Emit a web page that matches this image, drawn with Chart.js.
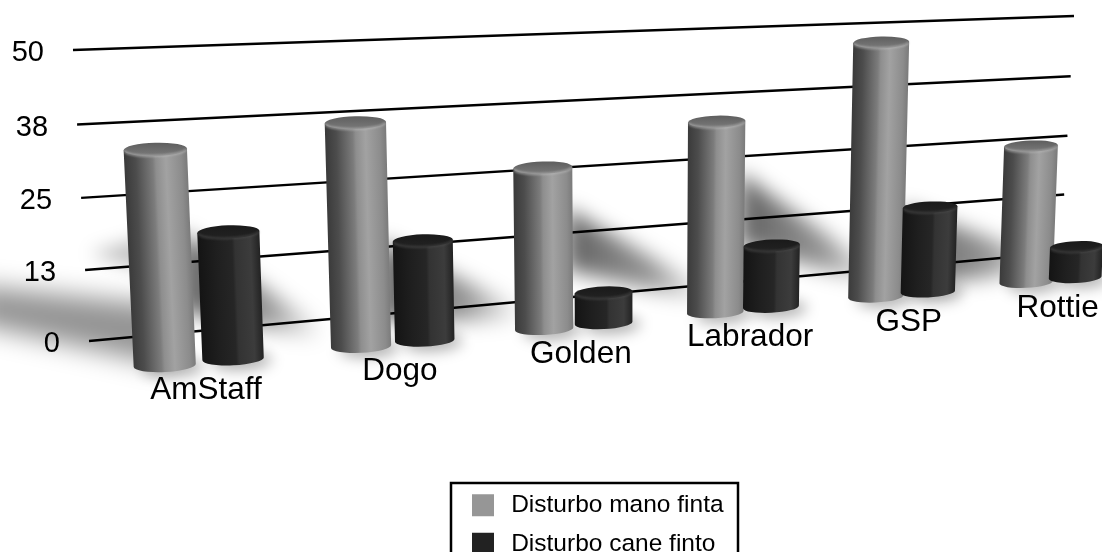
<!DOCTYPE html>
<html>
<head>
<meta charset="utf-8">
<title>Disturbo</title>
<script src="https://cdn.jsdelivr.net/npm/chart.js@4"></script>
<style>
  html, body { margin: 0; padding: 0; background: #fff; overflow: hidden; }
  canvas { display: block; }
</style>
</head>
<body>
<canvas id="myChart" width="1102" height="552"></canvas>
<script>
const razze = ['AmStaff', 'Dogo', 'Golden', 'Labrador', 'GSP', 'Rottie'];
const manoFinta = [36.7, 39.3, 29.4, 35.8, 49, 27.3];
const caneFinto = [22, 17.9, 5.7, 11.8, 16.7, 6.3];
const yTickLabels = ['0', '13', '25', '38', '50'];

const FONT = '"Liberation Sans", Arial, sans-serif';

// perspective planes: corners are BL, BR, TR, TL of the chart area once projected
const wallQuad = [[89, 341], [1061, 252.5], [1074, 16], [73, 50]];
const barQuad = [[97, 372], [1122, 273], [1133, 26], [82, 72]];

function homography(q) {
    const [[x0, y0], [x1, y1], [x2, y2], [x3, y3]] = q;
    const dx1 = x1 - x2, dx2 = x3 - x2, sx = x0 - x1 + x2 - x3;
    const dy1 = y1 - y2, dy2 = y3 - y2, sy = y0 - y1 + y2 - y3;
    const den = dx1 * dy2 - dx2 * dy1;
    const g = (sx * dy2 - dx2 * sy) / den;
    const h = (dx1 * sy - sx * dy1) / den;
    const a = x1 - x0 + g * x1, b = x3 - x0 + h * x3;
    const d = y1 - y0 + g * y1, e = y3 - y0 + h * y3;
    return (u, v) => {
        const w = g * u + h * v + 1;
        return [(a * u + b * v + x0) / w, (d * u + e * v + y0) / w];
    };
}
const wall = homography(wallQuad);
const front = homography(barQuad);

function barGeometry(chart, el, value) {
    const area = chart.chartArea;
    const yScale = chart.scales.y;
    const u0 = (el.x - el.width / 2 - area.left) / area.width;
    const u1 = (el.x + el.width / 2 - area.left) / area.width;
    const v = (area.bottom - yScale.getPixelForValue(value)) / area.height;
    // cylinders narrow less than the spacing between them does
    const widen = 0.92 + 0.22 * (u0 + u1) / 2;
    const end = (vv) => {
        const l = front(u0, vv), r = front(u1, vv);
        const rx = Math.hypot(r[0] - l[0], r[1] - l[1]) / 2 * widen;
        return { cx: (l[0] + r[0]) / 2, cy: (l[1] + r[1]) / 2, rx: rx, ry: rx * 0.21,
            rot: Math.atan2(r[1] - l[1], r[0] - l[0]) * 0.5 };
    };
    return { top: end(v), base: end(0) };
}

function cylinder(ctx, g, stops, capTop, capFront, rim) {
    const { top, base } = g;
    const ex = (e, s) => [e.cx + s * e.rx * Math.cos(e.rot), e.cy + s * e.rx * Math.sin(e.rot)];
    ctx.save();
    ctx.beginPath();
    ctx.ellipse(base.cx, base.cy, base.rx, base.ry, base.rot, 0, Math.PI);
    let p = ex(top, -1);
    ctx.lineTo(p[0], p[1]);
    p = ex(top, 1);
    ctx.lineTo(p[0], p[1]);
    ctx.closePath();
    ctx.clip();
    // shading follows the lean of the cylinder
    const shear = (top.cx - base.cx) / (top.cy - base.cy);
    ctx.transform(1, 0, shear, 1, -shear * top.cy, 0);
    const grad = ctx.createLinearGradient(top.cx - top.rx, 0, top.cx + top.rx, 0);
    stops.forEach(s => grad.addColorStop(s[0], s[1]));
    ctx.fillStyle = grad;
    ctx.fillRect(top.cx - top.rx - 60, top.cy - 40, top.rx * 2 + 120, base.cy - top.cy + 80);
    ctx.restore();

    const cap = ctx.createLinearGradient(0, top.cy - top.ry, 0, top.cy + top.ry);
    cap.addColorStop(0, capTop);
    cap.addColorStop(1, capFront);
    ctx.beginPath();
    ctx.ellipse(top.cx, top.cy, top.rx, top.ry, top.rot, 0, Math.PI * 2);
    ctx.fillStyle = cap;
    ctx.fill();
    // bevel along the front of the cap
    ctx.beginPath();
    ctx.ellipse(top.cx, top.cy, top.rx - 0.5, top.ry, top.rot, 0.12, Math.PI - 0.12);
    ctx.strokeStyle = rim;
    ctx.lineWidth = 2;
    ctx.filter = 'blur(1px)';
    ctx.stroke();
    ctx.filter = 'none';
}

function drawShadows(ctx, chart, geo) {
    const shadowLen = 140;
    ctx.save();
    geo[0].forEach((g, i) => {
        if (i === geo[0].length - 1) return;
        const dark = geo[1][i];
        const h = g.base.cy - g.top.cy;
        const darkH = dark.base.cy - dark.top.cy;
        const x0 = g.top.cx + g.top.rx - 6;
        // a tall neighbour hides the upper part of the streak
        const y0 = darkH > 70 ? dark.top.cy : g.base.cy - Math.min(h * 0.75, 140);
        const y1 = y0 + Math.min(h * 0.38, 80);
        const yEnd = g.base.cy - 34;
        const grad = ctx.createLinearGradient(x0, 0, x0 + shadowLen, 0);
        grad.addColorStop(0, 'rgba(0,0,0,0.62)');
        grad.addColorStop(0.6, 'rgba(0,0,0,0.42)');
        grad.addColorStop(1, 'rgba(0,0,0,0.02)');
        ctx.filter = 'blur(10px)';
        ctx.fillStyle = grad;
        ctx.beginPath();
        ctx.moveTo(x0, y0);
        ctx.lineTo(x0 + shadowLen, yEnd - 6);
        ctx.lineTo(x0 + shadowLen, yEnd + 8);
        ctx.lineTo(x0, y1);
        ctx.closePath();
        ctx.fill();
    });
    // band running off the left side of the first bar
    const first = geo[0][0];
    ctx.filter = 'blur(13px)';
    ctx.fillStyle = 'rgba(0,0,0,0.42)';
    ctx.beginPath();
    ctx.moveTo(first.base.cx, first.base.cy - 60);
    ctx.lineTo(first.base.cx, first.base.cy + 0);
    ctx.lineTo(first.base.cx - 190, first.base.cy - 42);
    ctx.lineTo(first.base.cx - 190, first.base.cy - 80);
    ctx.closePath();
    ctx.fill();
    ctx.fillStyle = 'rgba(0,0,0,0.25)';
    ctx.filter = 'blur(9px)';
    ctx.beginPath();
    ctx.moveTo(first.base.cx - 20, first.base.cy - 128);
    ctx.lineTo(first.base.cx - 20, first.base.cy - 95);
    ctx.lineTo(first.base.cx - 75, first.base.cy - 112);
    ctx.closePath();
    ctx.fill();
    // contact shadows under the bases
    ctx.filter = 'blur(7px)';
    ctx.fillStyle = 'rgba(0,0,0,0.3)';
    geo.forEach(set => set.forEach(g => {
        ctx.beginPath();
        ctx.ellipse(g.base.cx + 8, g.base.cy + 2, g.base.rx, g.base.ry + 3, g.base.rot, 0, Math.PI * 2);
        ctx.fill();
    }));
    ctx.restore();
}

const cylindersPlugin = {
    id: 'cylinders',
    afterLayout(chart) {
        // legend sits in its own framed box below the chart
        const lg = chart.legend;
        const pad = chart.options.plugins.legend.labels.padding;
        lg.left = 472 - pad;
        lg.right = lg.left + 270;
        lg.top = 493 - pad;
        lg.bottom = 600;
    },
    beforeDatasetsDraw(chart) {
        const ctx = chart.ctx;
        const area = chart.chartArea;
        const yScale = chart.scales.y;
        const geo = [manoFinta, caneFinto].map((vals, d) =>
            vals.map((v, i) => barGeometry(chart, chart.getDatasetMeta(d).data[i], v)));

        drawShadows(ctx, chart, geo);

        // grid lines and value labels on the back wall
        yScale.ticks.forEach(t => {
            const v = (area.bottom - yScale.getPixelForValue(t.value)) / area.height;
            const a = wall(0, v), b = wall(1, v);
            ctx.beginPath();
            ctx.moveTo(a[0], a[1]);
            ctx.lineTo(b[0], b[1]);
            ctx.strokeStyle = '#000';
            ctx.lineWidth = 2.4;
            ctx.stroke();
            ctx.fillStyle = '#000';
            ctx.font = '29px ' + FONT;
            ctx.textAlign = 'right';
            ctx.textBaseline = 'middle';
            ctx.fillText(t.label, a[0] - 29, a[1] + 3);
        });

        const grayStops = [[0, '#3a3a3a'], [0.18, '#4c4c4c'], [0.45, '#7c7c7c'], [0.5, '#8e8e8e'], [0.66, '#a2a2a2'], [0.9, '#8c8c8c'], [1, '#7a7a7a']];
        const darkStops = [[0, '#141414'], [0.3, '#1f1f1f'], [0.55, '#262626'], [0.6, '#333'], [0.85, '#3c3c3c'], [1, '#222']];
        razze.forEach((r, i) => {
            cylinder(ctx, geo[0][i], grayStops, '#5e5e5e', '#7a7a7a', 'rgba(190,190,190,0.65)');
            cylinder(ctx, geo[1][i], darkStops, '#1a1a1a', '#222', 'rgba(80,80,80,0.6)');
        });

        // category labels hang below the slanted base line
        ctx.fillStyle = '#000';
        ctx.textAlign = 'center';
        ctx.textBaseline = 'middle';
        ctx.font = '31.5px ' + FONT;
        chart.scales.x.getLabels().forEach((label, i) => {
            const g1 = geo[0][i].base, g2 = geo[1][i].base;
            const x = (g1.cx + g2.cx) / 2 + 7;
            const y = (g1.cy + g2.cy) / 2 + 28;
            ctx.fillText(label, x, y);
        });
        return false;
    },
    afterDraw(chart) {
        const ctx = chart.ctx;
        ctx.save();
        ctx.strokeStyle = '#000';
        ctx.lineWidth = 2.5;
        ctx.strokeRect(451, 483, 287, 90);
        ctx.restore();
    }
};

const config = {
    type: 'bar',
    data: {
        labels: razze,
        datasets: [
            { label: 'Disturbo mano finta', data: manoFinta, backgroundColor: '#969696', borderWidth: 0 },
            { label: 'Disturbo cane finto', data: caneFinto, backgroundColor: '#222222', borderWidth: 0 }
        ]
    },
    plugins: [cylindersPlugin],
    options: {
        responsive: false,
        animation: false,
        events: [],
        datasets: { bar: { categoryPercentage: 0.68, barPercentage: 0.96 } },
        layout: { padding: { left: 90, right: 40, top: 52, bottom: 210 } },
        scales: {
            x: {
                ticks: { display: false },
                grid: { display: false },
                border: { display: false }
            },
            y: {
                min: 0,
                max: 50,
                ticks: {
                    display: false,
                    stepSize: 12.5,
                    callback: (value, i) => yTickLabels[i]
                },
                grid: { display: false },
                border: { display: false }
            }
        },
        plugins: {
            title: { display: false },
            tooltip: { enabled: false },
            legend: {
                position: 'chartArea',
                align: 'start',
                labels: {
                    color: '#000',
                    boxWidth: 22,
                    boxHeight: 22,
                    padding: 14,
                    font: { family: FONT, size: 24.5 },
                    generateLabels: (chart) => Chart.defaults.plugins.legend.labels.generateLabels(chart)
                        .map(item => ({ ...item, text: '\u2009' + item.text }))
                }
            }
        }
    }
};

const myChart = new Chart(document.getElementById('myChart'), config);
</script>
</body>
</html>
